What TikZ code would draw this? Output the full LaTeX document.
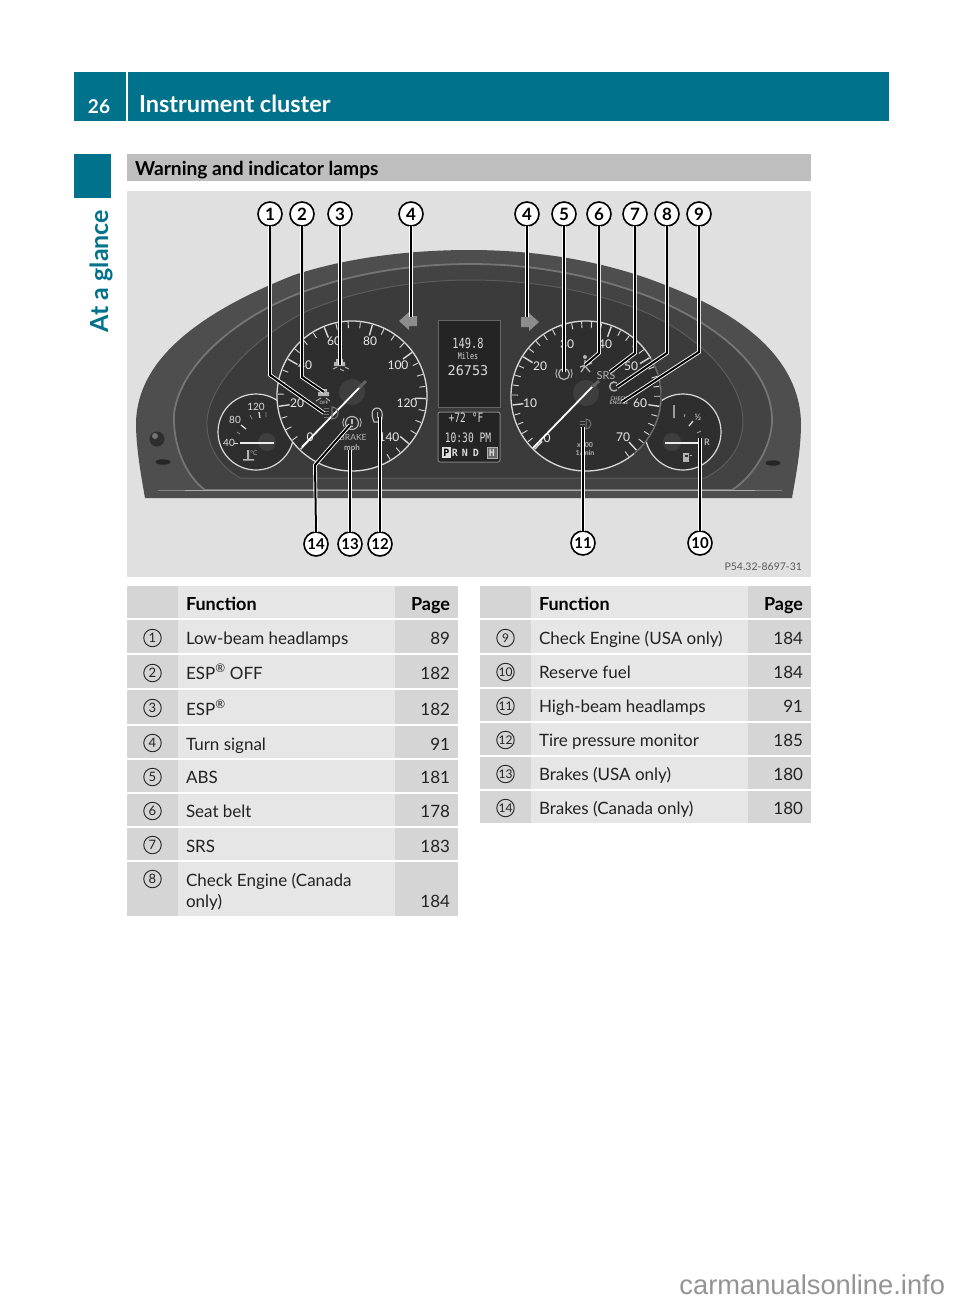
\documentclass[tikz,border=0pt]{standalone}
\usepackage{fontspec}
\setmainfont{Lato}
\newfontfamily\wmfont{Liberation Sans}
\newfontfamily\monof{DejaVu Sans Mono}
\newfontfamily\monon[FakeStretch=.74]{DejaVu Sans Mono}
\definecolor{teal0}{HTML}{00728C}
\definecolor{cellA}{HTML}{D5D5D5}
\definecolor{cellB}{HTML}{E6E6E6}
\definecolor{barG}{HTML}{BEBEBE}
\definecolor{picG}{HTML}{E0E0E0}
\definecolor{txtK}{HTML}{222222}
\definecolor{iconG}{HTML}{B4B4B4}
\definecolor{bodyA}{HTML}{4E4E4E}
\definecolor{bodyB}{HTML}{434343}
\definecolor{bodyC}{HTML}{3B3B3B}
\definecolor{faceG}{HTML}{2E2E2E}
\definecolor{hubG}{HTML}{3E3E3E}
\definecolor{tickG}{HTML}{D8D8D8}
\tikzset{
 every node/.style={inner sep=0pt,outer sep=0pt},
 call/.style={circle,draw=black,fill=white,line width=1.6pt,minimum size=24pt,font=\fontsize{17}{17}\selectfont\bfseries,text=black},
 calltwo/.style={call,font=\fontsize{15}{15}\selectfont\bfseries},
 lead/.style={draw=white,double=black,line width=.9pt,double distance=2pt},
 tnum/.style={circle,draw=txtK,line width=.9pt,minimum size=17.5pt,font=\fontsize{13}{13}\selectfont,text=txtK},
 ttxt/.style={anchor=base west,font=\fontsize{17}{17}\selectfont,text=txtK},
 tpag/.style={anchor=base east,font=\fontsize{17}{17}\selectfont,text=txtK},
 thead/.style={font=\fontsize{18}{18}\selectfont\bfseries,text=black},
 glabel/.style={font=\fontsize{12}{12}\selectfont,text=white!92!black},
 slabel/.style={font=\fontsize{10}{10}\selectfont,text=white!88!black},
 smalllab/.style={font=\fontsize{7}{7}\selectfont,text=iconG},
 disp/.style={font=\monof\fontsize{12}{12}\selectfont,text=white!85!black},
 gear/.style={font=\monof\fontsize{10}{10}\selectfont\bfseries,text=white!85!black},
}
\newcommand{\gaugeticks}[6]{% cx cy startangle step count majorEvery
 \foreach \i in {0,...,#5}{
  \pgfmathsetmacro\a{#3-#4*\i}
  \pgfmathtruncatemacro\mm{mod(\i,#6)}
  \pgfmathsetmacro\ll{\mm==0?11:6}
  \pgfmathsetmacro\w{\mm==0?1.4:.9}
  \draw[tickG,line width=\w pt]({#1+74*cos(\a)},{#2-74*sin(\a)})--({#1+(74-\ll)*cos(\a)},{#2-(74-\ll)*sin(\a)});
 }}
\begin{document}
\begin{tikzpicture}[x=1pt,y=-1pt]
\useasboundingbox (0,0) rectangle (960,1302);
\fill[white] (0,0) rectangle (960,1302);
% header
\fill[teal0] (74,72) rectangle (126,121);
\fill[teal0] (128,72) rectangle (889,121);
\fill[teal0] (74,154) rectangle (111,198);
\node[anchor=base,text=white,font=\fontsize{19}{19}\selectfont\bfseries] (pnum) at (99,113) {26};
\node[anchor=base west,text=white,font=\fontsize{23.5}{23.5}\selectfont\bfseries] (ptitle) at (139,112) {Instrument cluster};
\node[rotate=90,text=teal0,font=\fontsize{25}{25}\selectfont\bfseries] (side) at (101,271) {At a glance};
\fill[barG] (127,154) rectangle (811,181);
\node[anchor=base west,text=black,font=\fontsize{19.2}{19.2}\selectfont\bfseries] (sect) at (135,175) {Warning and indicator lamps};
% picture
\fill[picG] (127,191) rectangle (811,577);
% body
\fill[bodyA]
 (145,498) .. controls (140,470) and (136,445) .. (136,423) .. controls (137,370) and (180,320) .. (294,275) .. controls (340,260) and (400,250) .. (470,250) .. controls (540,250) and (610,262) .. (670,287) .. controls (760,322) and (800,370) .. (801,423) .. controls (801,450) and (796,475) .. (792,498) -- cycle;
\path[fill=bodyB,draw=black!54,line width=1.8pt,line join=round]
 (205,490) .. controls (185,475) and (173,445) .. (174,415) .. controls (178,370) and (230,320) .. (300,293) .. controls (350,274) and (410,264) .. (470,264) .. controls (530,264) and (590,274) .. (650,297) .. controls (720,325) and (772,370) .. (772,420) .. controls (772,445) and (755,475) .. (732,490) -- cycle;
\path[fill=bodyC,draw=black!64,line width=1pt]
 (240,478) .. controls (218,465) and (206,445) .. (207,420) .. controls (210,385) and (250,340) .. (305,312) .. controls (350,292) and (410,280) .. (470,280) .. controls (530,280) and (590,290) .. (640,310) .. controls (700,335) and (742,380) .. (743,420) .. controls (743,445) and (730,465) .. (705,478) -- cycle;
\draw[black!48,line width=1.8pt] (158,490.5)--(782,490.5);
\draw[white!68!black,line width=1.8pt] (185,490.5)--(755,490.5);
% knob and slots
\fill[black!82] (157,439) circle[radius=7.5pt];
\fill[black!55] (155,436) circle[radius=3pt];
\fill[black!85] (163,462) ellipse[x radius=7.5pt,y radius=2.7pt];
\fill[black!85] (773,463) ellipse[x radius=7.5pt,y radius=2.7pt];
% small gauges
\fill[faceG] (256,432) circle[radius=38pt];
\draw[tickG,line width=1.2pt] (256,432) circle[radius=38pt];
\fill[faceG] (683,432) circle[radius=38pt];
\draw[tickG,line width=1.2pt] (683,432) circle[radius=38pt];
% left small
\fill[hubG] (267,442) circle[radius=9pt];
\draw[tickG,line width=1.3pt] (241,425)--(246,429) (259,412)--(260,418);
\draw[black!45,line width=.8pt] (237,432)--(240,434) (250,415)--(252,419) (266,412)--(266,417);
\draw[tickG,line width=1pt] (234,443)--(238,443);
\node[slabel] (ct40) at (229,443) {40};
\node[slabel] (ct80) at (235,420) {80};
\node[slabel] (ct120) at (256,407) {120};
\draw[white!92!black,line width=1.6pt] (240,443)--(274,443);
\fill[iconG] (247,450) rectangle (249,459) (243,459) rectangle (254,460.5);
\node[font=\fontsize{6.5}{6.5}\selectfont,text=iconG] (cdeg) at (254,453) {°C};
% right small
\fill[hubG] (672,442) circle[radius=9pt];
\draw[tickG,line width=1.3pt] (674,405)--(674,418) (689,426)--(693,421);
\draw[black!35,line width=.8pt] (684,417)--(685,414) (697,433)--(701,431);
\node[font=\fontsize{9}{9}\selectfont,text=white!85!black] (half) at (698,417) {½};
\node[font=\fontsize{9}{9}\selectfont,text=white!85!black] (res) at (707,442) {R};
\draw[white!92!black,line width=1.6pt] (665,443)--(700,443);
\fill[iconG] (683,453) rectangle (689,462);
\fill[faceG] (684.5,454.5) rectangle (687.5,457);
\draw[iconG,line width=.7pt] (690,455)--(692,455);
% big gauges
\fill[faceG] (352,396) circle[radius=75pt];
\fill[faceG] (586,396) circle[radius=75pt];
\draw[tickG,line width=1.3pt] (352,396) circle[radius=75pt];
\draw[tickG,line width=1.3pt] (586,396) circle[radius=75pt];
\draw[faceG,line width=1.6pt] ({586+75*cos(30)},{396-75*sin(30)}) arc[start angle=30,end angle=-50,radius=75pt];
\draw[black!55,line width=1pt] ({586+75*cos(30)},{396-75*sin(30)}) arc[start angle=30,end angle=-50,radius=75pt];
\gaugeticks{352}{396}{226}{9.5}{30}{4}
\gaugeticks{586}{396}{226}{7.8}{36}{5}
% left dial text
\node[glabel] (l0) at (310,437) {0};
\node[glabel] (l20) at (297,403) {20};
\node[glabel] (l40) at (305,365) {40};
\node[glabel] (l60) at (334,341) {60};
\node[glabel] (l80) at (370,341) {80};
\node[glabel] (l100) at (398,365) {100};
\node[glabel] (l120) at (407,403) {120};
\node[glabel] (l140) at (389,437) {140};
\node[smalllab,font=\fontsize{8.5}{8.5}\selectfont] (brake) at (353,437) {BRAKE};
\node[smalllab,font=\fontsize{8}{8}\selectfont\bfseries] (mph) at (352,448) {mph};
% right dial text
\node[glabel] (r0) at (547,438) {0};
\node[glabel] (r10) at (530,403) {10};
\node[glabel] (r20) at (540,366) {20};
\node[glabel] (r30) at (567,344) {30};
\node[glabel] (r40) at (605,344) {40};
\node[glabel] (r50) at (631,366) {50};
\node[glabel] (r60) at (640,403) {60};
\node[glabel] (r70) at (623,437) {70};
\node[smalllab,font=\fontsize{11}{11}\selectfont] (srs) at (606,376) {SRS};
\node[align=center,font=\fontsize{5}{5}\selectfont\bfseries,text=iconG] (chk) at (619,401) {CHECK\\[-1pt]ENGINE};
\node[align=center,font=\fontsize{7}{7.5}\selectfont\bfseries,text=iconG] (rpm) at (585,449) {x100\\1/min};
% hubs and needles
\fill[hubG] (352,392) circle[radius=13pt];
\fill[hubG] (586,393) circle[radius=13pt];
\draw[black!62,line width=3pt] (359,388)--(366,381);
\draw[black!62,line width=3pt] (592,387)--(599,381);
\draw[white,line width=1.8pt] (359,388)--(302,447);
\draw[white,line width=1.8pt] (592,387)--(533,448);
% icons left dial
\fill[iconG] (334,362) rectangle (345,366) (336,359) rectangle (343,362);
\draw[iconG,line width=.9pt] (333,369)--(337,367) (340,369)--(344,371) (345,367)--(349,369);
\fill[iconG] (318,392) rectangle (329,396) (320,389) rectangle (327,392);
\draw[iconG,line width=.9pt] (316,401)--(321,398) (326,398)--(330,401);
\node[font=\fontsize{4.5}{5}\selectfont\bfseries,text=iconG] (off) at (324,403) {OFF};
\draw[black!55,line width=1.1pt] (332,407) arc[start angle=90,end angle=-90,radius=6pt] -- cycle;
\draw[black!55,line width=.9pt] (324,408)--(329,408) (324,411)--(329,411) (324,414)--(329,414) (324,417)--(329,417);
\draw[iconG,line width=1.2pt] (352,423) circle[radius=6.5pt];
\draw[iconG,line width=.9pt] (344,418) arc[start angle=150,end angle=210,radius=9pt];
\draw[iconG,line width=.9pt] (360,418) arc[start angle=30,end angle=-30,radius=9pt];
\fill[white] (351.3,419) rectangle (352.7,424) (351.3,425.5) rectangle (352.7,427);
\draw[iconG,line width=1.2pt] (374,422) .. controls (370,412) and (373,408) .. (377,408) .. controls (381,408) and (384,412) .. (381,422) -- cycle;
\fill[iconG] (376.5,412) rectangle (377.8,418);
% icons right dial
\draw[iconG,line width=1.2pt] (564,374) circle[radius=5.5pt];
\draw[iconG,line width=.9pt] (557,369) arc[start angle=150,end angle=210,radius=9pt];
\draw[iconG,line width=.9pt] (571,369) arc[start angle=30,end angle=-30,radius=9pt];
\fill[iconG] (585,357) circle[radius=2pt];
\draw[iconG,line width=1.3pt] (585,360)--(585,366)--(581,372) (585,366)--(590,372) (580,367)--(592,363);
\draw[iconG,line width=1.4pt] (617,383) arc[start angle=50,end angle=310,radius=4.5pt];
\draw[black!55,line width=1pt] (580,421)--(585,421) (580,424)--(585,424) (580,427)--(585,427);
\draw[black!55,line width=1pt] (586,419) arc[start angle=90,end angle=-90,radius=5pt] -- cycle;
% displays
\filldraw[fill=black!86,draw=black!60,line width=.8pt] (438,320) rectangle (500,407);
\filldraw[fill=black!86,draw=black!50,line width=1pt,rounded corners=2pt] (438,412) rectangle (500,462);
\node[disp,font=\monon\fontsize{14}{14}\selectfont] (d1) at (468,343) {149.8};
\node[disp,font=\monon\fontsize{9}{9}\selectfont] (d2) at (468,356) {Miles};
\node[disp,font=\monof\fontsize{13.5}{13.5}\selectfont] (d3) at (468,371) {26753};
\node[disp,font=\monon\fontsize{13}{13}\selectfont] (d4) at (466,418) {+72 °F};
\node[disp,font=\monon\fontsize{13}{13}\selectfont] (d5) at (468,438) {10:30 PM};
\fill[white!88!black] (442,447) rectangle (451,458);
\node[gear,text=black] (gp) at (446.5,452.5) {P};
\node[gear] (gr) at (455,452.5) {R};
\node[gear] (gn) at (465,452.5) {N};
\node[gear] (gd) at (476,452.5) {D};
\filldraw[fill=black!60,draw=white!70!black,line width=.6pt] (487,447) rectangle (497,458);
\node[gear] (gh) at (492,452.5) {H};
% arrows
\fill[black!45] (399,321)--(409,312)--(409,316)--(417,316)--(417,326)--(409,326)--(409,330)--cycle;
\fill[black!45] (539,322)--(529,313)--(529,317)--(521,317)--(521,327)--(529,327)--(529,331)--cycle;
% callouts
\foreach \n/\t/\px/\py in {c1/1/270/214,c2/2/302/214,c3/3/340/214,c4a/4/411/214,c4b/4/527/214,c5/5/564/214,c6/6/599/214,c7/7/635/214,c8/8/667/214,c9/9/699/214}
 \node[call] (\n) at (\px,\py) {\t};
\foreach \n/\t/\px/\py in {c10/10/700/543,c11/11/583/543,c12/12/380/544,c13/13/350/544,c14/14/316/544}
 \node[calltwo] (\n) at (\px,\py) {\t};
\coordinate (b1) at (270,375); \coordinate (t1) at (324,413);
\coordinate (b2) at (302,377); \coordinate (t2) at (324,392);
\coordinate (t3) at (340,365);
\coordinate (t4a) at (411,317);
\coordinate (t4b) at (527,317);
\coordinate (t5) at (564,372);
\coordinate (b6) at (599,353); \coordinate (t6) at (585,365);
\coordinate (b7) at (635,353); \coordinate (t7) at (610,372);
\coordinate (b8) at (667,353); \coordinate (t8) at (617,387);
\coordinate (b9) at (699,352); \coordinate (t9) at (622,402);
\coordinate (t10) at (700,438);
\coordinate (t11) at (583,427);
\coordinate (t12) at (380,417);
\coordinate (t13) at (350,450);
\coordinate (b14) at (315,465); \coordinate (t14) at (350,425);
\draw[lead] (c1.south)--(b1)--(t1);
\draw[lead] (c2.south)--(b2)--(t2);
\draw[lead] (c3.south)--(t3);
\draw[lead] (c4a.south)--(t4a);
\draw[lead] (c4b.south)--(t4b);
\draw[lead] (c5.south)--(t5);
\draw[lead] (c6.south)--(b6)--(t6);
\draw[lead] (c7.south)--(b7)--(t7);
\draw[lead] (c8.south)--(b8)--(t8);
\draw[lead] (c9.south)--(b9)--(t9);
\draw[lead] (c10.north)--(t10);
\draw[lead] (c11.north)--(t11);
\draw[lead] (c12.north)--(t12);
\draw[lead] (c13.north)--(t13);
\draw[lead] (c14.north)--(b14)--(t14);
\node[anchor=base east,font=\fontsize{10.5}{10.5}\selectfont,text=black!65] (pcode) at (802,570) {P54.32-8697-31};
% left table
\fill[cellA] (127,586) rectangle (178,618);\fill[cellB] (178,586) rectangle (395,618);\fill[cellA] (395,586) rectangle (458,618);
\foreach \ya/\yb in {620/653,654.5/688,690/724,725.5/758,759.5/792,794/826,828/860,862/916}{
 \fill[cellA] (127,\ya) rectangle (178,\yb);
 \fill[cellB] (178,\ya) rectangle (395,\yb);
 \fill[cellA] (395,\ya) rectangle (458,\yb);}
\node[thead,anchor=base west] (lh1) at (186,610) {Function};
\node[thead,anchor=base east] (lh2) at (450,610) {Page};
\foreach \n/\t/\yc/\yb/\s/\p in {a/1/638/644/Low-beam headlamps/89,b/2/673/679/ESP\textsuperscript{®} OFF/182,c/3/708/715/ESP\textsuperscript{®}/182,d/4/743/750/Turn signal/91,e/5/777/783/ABS/181,f/6/811/817/Seat belt/178,g/7/845/852/SRS/183}{
 \node[tnum] (ln\n) at (152.5,\yc) {\t};
 \node[ttxt] (lt\n) at (186,\yb) {\s};
 \node[tpag] (lp\n) at (450,\yb) {\p};}
\node[tnum] (lnh) at (152.5,879) {8};
\node[ttxt] (lth) at (186,886) {Check Engine (Canada};
\node[ttxt] (lti) at (186,907) {only)};
\node[tpag] (lph) at (450,907) {184};
% right table
\fill[cellA] (480,586) rectangle (531,618);\fill[cellB] (531,586) rectangle (748,618);\fill[cellA] (748,586) rectangle (811,618);
\foreach \ya/\yb in {620/653,654.5/687,688.5/721,722.5/755,756.5/789,790.5/823}{
 \fill[cellA] (480,\ya) rectangle (531,\yb);
 \fill[cellB] (531,\ya) rectangle (748,\yb);
 \fill[cellA] (748,\ya) rectangle (811,\yb);}
\node[thead,anchor=base west] (rh1) at (539,610) {Function};
\node[thead,anchor=base east] (rh2) at (803,610) {Page};
\foreach \n/\t/\yc/\yb/\s/\p in {a/9/638/644/Check Engine (USA only)/184,b/10/672/678/Reserve fuel/184,c/11/706/712/High-beam headlamps/91,d/12/740/746/Tire pressure monitor/185,e/13/774/780/Brakes (USA only)/180,f/14/808/814/Brakes (Canada only)/180}{
 \node[tnum,font=\fontsize{12}{12}\selectfont] (rn\n) at (505.5,\yc) {\t};
 \node[ttxt] (rt\n) at (539,\yb) {\s};
 \node[tpag] (rp\n) at (803,\yb) {\p};}
% watermark
\node[anchor=base east,font=\wmfont\fontsize{27.3}{27.3}\selectfont,text=black!42] (wm) at (945,1294) {carmanualsonline.info};
\end{tikzpicture}
\end{document}
